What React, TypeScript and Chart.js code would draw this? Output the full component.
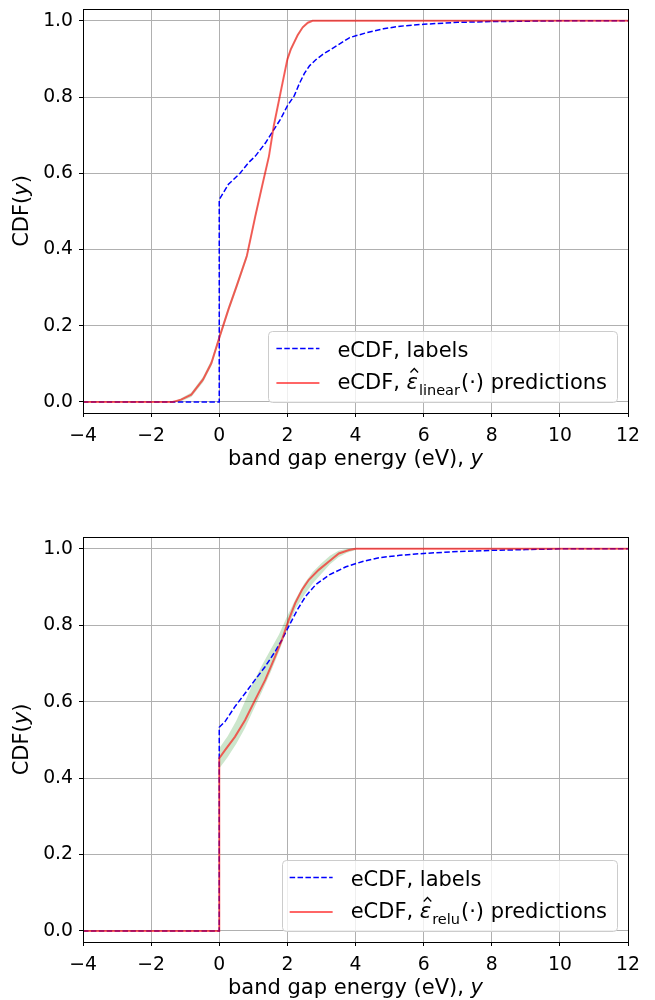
import React, { useEffect, useRef } from "react";
import { Chart, registerables } from "chart.js";
Chart.register(...registerables);

const xTicks = [-4, -2, 0, 2, 4, 6, 8, 10, 12];
const yTicks = [0, 0.2, 0.4, 0.6, 0.8, 1.0];

// Top panel: labels eCDF
const topLabelsX = [-4, 0, 0, 0.27, 0.61, 0.86, 1.06, 1.36, 1.55, 1.8, 2.0, 2.2, 2.35, 2.5, 2.65, 2.85, 3.04, 3.44, 3.83, 4.33, 4.82, 5.32, 6.0, 7.0, 8.0, 9.0, 10.0, 12];
const topLabelsY = [0, 0, 0.531, 0.571, 0.6, 0.628, 0.645, 0.68, 0.707, 0.742, 0.777, 0.803, 0.835, 0.862, 0.882, 0.899, 0.912, 0.934, 0.956, 0.969, 0.979, 0.986, 0.991, 0.996, 0.998, 0.999, 1.0, 1.0];
// Top panel: linear predictions eCDF
const topPredX = [-4, -1.37, -1.12, -0.82, -0.475, -0.23, 0, 0.27, 0.51, 0.81, 1.06, 1.26, 1.46, 1.6, 1.8, 2.0, 2.1, 2.3, 2.45, 2.6, 2.74, 12];
const topPredY = [0, 0, 0.006, 0.019, 0.059, 0.102, 0.168, 0.243, 0.304, 0.383, 0.488, 0.567, 0.645, 0.724, 0.812, 0.899, 0.925, 0.962, 0.983, 0.995, 1.0, 1.0];
const topBandLow = [0, 0, 0.002, 0.013, 0.052, 0.094, 0.16, 0.235, 0.296, 0.375, 0.48, 0.56, 0.638, 0.717, 0.806, 0.894, 0.92, 0.958, 0.98, 0.993, 0.999, 1.0];
const topBandHigh = [0, 0, 0.01, 0.025, 0.066, 0.11, 0.176, 0.251, 0.312, 0.391, 0.496, 0.574, 0.652, 0.731, 0.818, 0.904, 0.93, 0.966, 0.986, 0.997, 1.0, 1.0];

// Bottom panel: labels eCDF
const botLabelsX = [-4, 0, 0, 0.17, 0.46, 0.76, 1.05, 1.35, 1.64, 1.84, 2.04, 2.29, 2.53, 2.83, 3.23, 3.72, 4.21, 4.7, 5.3, 6.0, 7.0, 8.0, 9.0, 10.0, 12];
const botLabelsY = [0, 0, 0.533, 0.548, 0.587, 0.622, 0.657, 0.692, 0.731, 0.762, 0.797, 0.84, 0.875, 0.906, 0.932, 0.953, 0.967, 0.977, 0.983, 0.988, 0.993, 0.996, 0.998, 1.0, 1.0];
// Bottom panel: relu predictions eCDF
const botPredX = [-4, 0, 0, 0.17, 0.46, 0.76, 1.05, 1.35, 1.64, 1.84, 2.04, 2.23, 2.43, 2.63, 2.92, 3.22, 3.51, 3.81, 4.0, 12];
const botPredY = [0, 0, 0.452, 0.473, 0.508, 0.552, 0.604, 0.657, 0.718, 0.762, 0.814, 0.858, 0.893, 0.919, 0.945, 0.967, 0.988, 0.997, 1.0, 1.0];
const botBandX = [0, 0.25, 0.5, 0.75, 1.0, 1.25, 1.5, 1.75, 2.0, 2.25, 2.5, 2.75, 3.0, 3.25, 3.5, 3.75, 4.0];
const botBandLow = [0.425, 0.455, 0.49, 0.53, 0.578, 0.625, 0.675, 0.73, 0.79, 0.845, 0.88, 0.91, 0.935, 0.96, 0.978, 0.99, 0.997];
const botBandHigh = [0.478, 0.51, 0.55, 0.6, 0.65, 0.695, 0.735, 0.775, 0.825, 0.87, 0.91, 0.94, 0.962, 0.982, 0.995, 1.0, 1.0];

const FONT = '"DejaVu Sans", sans-serif';
const LABEL_SIZE = 21;
const TICK_SIZE = 18.8;

const pts = (xs: number[], ys: number[]) => xs.map((x, i) => ({ x, y: ys[i] }));

function drawLegend(ctx: CanvasRenderingContext2D, area: any, sub: string) {
  ctx.save();
  const f = `${LABEL_SIZE}px ${FONT}`;
  const fi = `italic ${LABEL_SIZE}px ${FONT}`;
  const fs = `14.5px ${FONT}`;
  ctx.font = f;
  const t1 = "eCDF, labels";
  const pre = "eCDF, ";
  const post = "(·) predictions";
  const w1 = ctx.measureText(t1).width;
  const wPre = ctx.measureText(pre).width;
  const wPost = ctx.measureText(post).width;
  ctx.font = fi;
  const wEps = ctx.measureText("ε").width;
  ctx.font = fs;
  const wSub = ctx.measureText(sub).width;
  const w2 = wPre + wEps + 1 + wSub + 1 + wPost;
  const textW = Math.max(w1, w2);
  const boxW = 69 + textW + 10;
  const boxH = 71;
  const right = area.right - 11;
  const bottom = area.bottom - 11;
  const left = right - boxW;
  const top = bottom - boxH;
  ctx.beginPath();
  (ctx as any).roundRect(Math.round(left) + 0.5, Math.round(top) + 0.5, Math.round(boxW), boxH, 4);
  ctx.fillStyle = "rgba(255,255,255,0.8)";
  ctx.fill();
  ctx.strokeStyle = "#cccccc";
  ctx.lineWidth = 1;
  ctx.stroke();
  const l1 = top + 17.5;
  const l2 = top + 52;
  const b1 = top + 25.5;
  const b2 = top + 58;
  // blue dashed sample
  ctx.beginPath();
  ctx.setLineDash([5.5, 2.4]);
  ctx.strokeStyle = "#0000ff";
  ctx.lineWidth = 1.5;
  ctx.moveTo(left + 8, l1);
  ctx.lineTo(left + 51, l1);
  ctx.stroke();
  ctx.setLineDash([]);
  ctx.beginPath();
  ctx.strokeStyle = "rgba(255,0,0,0.6)";
  ctx.lineWidth = 2;
  ctx.moveTo(left + 8, l2);
  ctx.lineTo(left + 51, l2);
  ctx.stroke();
  ctx.fillStyle = "#000";
  ctx.textBaseline = "alphabetic";
  ctx.textAlign = "left";
  ctx.font = f;
  const tx = left + 69;
  ctx.fillText(t1, tx, b1);
  ctx.fillText(pre, tx, b2);
  let x = tx + wPre;
  ctx.font = fi;
  ctx.fillText("ε", x, b2);
  // hat accent over epsilon
  ctx.beginPath();
  ctx.strokeStyle = "#000";
  ctx.lineWidth = 1.3;
  const hx = x + wEps / 2 + 2;
  ctx.moveTo(hx - 3.8, b2 - 16.5);
  ctx.lineTo(hx, b2 - 20.5);
  ctx.lineTo(hx + 3.8, b2 - 16.5);
  ctx.stroke();
  x += wEps + 1;
  ctx.font = fs;
  ctx.fillText(sub, x, b2 + 6);
  x += wSub + 1;
  ctx.font = f;
  ctx.fillText(post, x, b2);
  ctx.restore();
}

function makePlugin(sub: string) {
  return {
    id: "decor" + sub,
    afterDraw(chart: any) {
      const ctx: CanvasRenderingContext2D = chart.ctx;
      const a = chart.chartArea;
      ctx.save();
      ctx.strokeStyle = "#000";
      ctx.lineWidth = 1;
      ctx.strokeRect(Math.round(a.left) + 0.5, Math.round(a.top) + 0.5, Math.round(a.right - a.left), Math.round(a.bottom - a.top));
      ctx.fillStyle = "#000";
      ctx.textBaseline = "middle";
      // x title
      const xa = "band gap energy (eV), ";
      ctx.font = `${LABEL_SIZE}px ${FONT}`;
      const wa = ctx.measureText(xa).width;
      ctx.font = `italic ${LABEL_SIZE}px ${FONT}`;
      const wy = ctx.measureText("y").width;
      const cx = (a.left + a.right) / 2;
      const sx = cx - (wa + wy) / 2;
      const ty = a.bottom + 47;
      ctx.font = `${LABEL_SIZE}px ${FONT}`;
      ctx.textAlign = "left";
      ctx.fillText(xa, sx, ty);
      ctx.font = `italic ${LABEL_SIZE}px ${FONT}`;
      ctx.fillText("y", sx + wa, ty);
      // y title
      ctx.save();
      ctx.translate(23, (a.top + a.bottom) / 2);
      ctx.rotate(-Math.PI / 2);
      ctx.font = `${LABEL_SIZE}px ${FONT}`;
      const wc = ctx.measureText("CDF(").width;
      const wp = ctx.measureText(")").width;
      ctx.font = `italic ${LABEL_SIZE}px ${FONT}`;
      const wyy = ctx.measureText("y").width;
      const total = wc + wyy + wp;
      let px = -total / 2;
      ctx.font = `${LABEL_SIZE}px ${FONT}`;
      ctx.fillText("CDF(", px, 0);
      px += wc;
      ctx.font = `italic ${LABEL_SIZE}px ${FONT}`;
      ctx.fillText("y", px, 0);
      px += wyy;
      ctx.font = `${LABEL_SIZE}px ${FONT}`;
      ctx.fillText(")", px, 0);
      ctx.restore();
      drawLegend(ctx, a, sub);
      ctx.restore();
    },
  };
}

function buildConfig(opts: {
  labX: number[]; labY: number[]; predX: number[]; predY: number[];
  bandX: number[]; bandLow: number[]; bandHigh: number[];
  padTop: number; xHeight: number; sub: string;
}): any {
  return {
    type: "line",
    data: {
      datasets: [
        {
          label: "pred",
          data: pts(opts.predX, opts.predY),
          borderColor: "rgba(255,0,0,0.6)",
          borderWidth: 2,
          pointRadius: 0,
          tension: 0,
          fill: false,
        },
        {
          label: "labels",
          data: pts(opts.labX, opts.labY),
          borderColor: "#0000ff",
          borderWidth: 1.5,
          borderDash: [5.5, 2.4],
          pointRadius: 0,
          tension: 0,
          fill: false,
        },
        {
          label: "bandHigh",
          data: pts(opts.bandX, opts.bandHigh),
          borderWidth: 0,
          borderColor: "rgba(0,0,0,0)",
          backgroundColor: "rgba(0,128,0,0.2)",
          pointRadius: 0,
          tension: 0,
          fill: "+1",
        },
        {
          label: "bandLow",
          data: pts(opts.bandX, opts.bandLow),
          borderWidth: 0,
          borderColor: "rgba(0,0,0,0)",
          pointRadius: 0,
          tension: 0,
          fill: false,
        },
      ],
    },
    options: {
      animation: false,
      responsive: false,
      layout: { padding: { top: opts.padTop, right: 27, left: 0, bottom: 0 } },
      plugins: { legend: { display: false }, tooltip: { enabled: false } },
      scales: {
        x: {
          type: "linear",
          min: -4,
          max: 12,
          afterBuildTicks: (s: any) => { s.ticks = xTicks.map((v) => ({ value: v })); },
          afterFit: (s: any) => { s.height = opts.xHeight; s.paddingLeft = 0; s.paddingRight = 0; },
          ticks: {
            callback: (v: number) => (v < 0 ? "\u2212" + Math.abs(v) : String(v)),
            font: { family: FONT, size: TICK_SIZE },
            color: "#000",
            padding: 8,
            maxRotation: 0,
          },
          grid: { color: "#b0b0b0", lineWidth: 1, tickLength: 4, tickColor: "#000" },
          border: { display: false },
        },
        y: {
          type: "linear",
          min: -0.029,
          max: 1.031,
          afterBuildTicks: (s: any) => { s.ticks = yTicks.map((v) => ({ value: v })); },
          afterFit: (s: any) => { s.width = 83; s.paddingTop = 0; s.paddingBottom = 0; },
          ticks: {
            callback: (v: number) => v.toFixed(1),
            font: { family: FONT, size: TICK_SIZE },
            color: "#000",
            padding: 6,
          },
          grid: { color: "#b0b0b0", lineWidth: 1, tickLength: 4, tickColor: "#000" },
          border: { display: false },
        },
      },
    },
    plugins: [makePlugin(opts.sub)],
  };
}

export default function App() {
  const c1 = useRef<HTMLCanvasElement>(null);
  const c2 = useRef<HTMLCanvasElement>(null);
  useEffect(() => {
    const ch1 = new Chart(c1.current!, buildConfig({
      labX: topLabelsX, labY: topLabelsY, predX: topPredX, predY: topPredY,
      bandX: topPredX, bandLow: topBandLow, bandHigh: topBandHigh,
      padTop: 9, xHeight: 87, sub: "linear",
    }));
    const ch2 = new Chart(c2.current!, buildConfig({
      labX: botLabelsX, labY: botLabelsY, predX: botPredX, predY: botPredY,
      bandX: botBandX, bandLow: botBandLow, bandHigh: botBandHigh,
      padTop: 37, xHeight: 58, sub: "relu",
    }));
    return () => { ch1.destroy(); ch2.destroy(); };
  }, []);
  return (
    <div style={{ position: "absolute", left: 0, top: 0, width: 655, height: 1000, background: "#fff" }}>
      <canvas ref={c1} width={655} height={500} style={{ position: "absolute", left: 0, top: 0, width: 655, height: 500 }} />
      <canvas ref={c2} width={655} height={500} style={{ position: "absolute", left: 0, top: 500, width: 655, height: 500 }} />
    </div>
  );
}
